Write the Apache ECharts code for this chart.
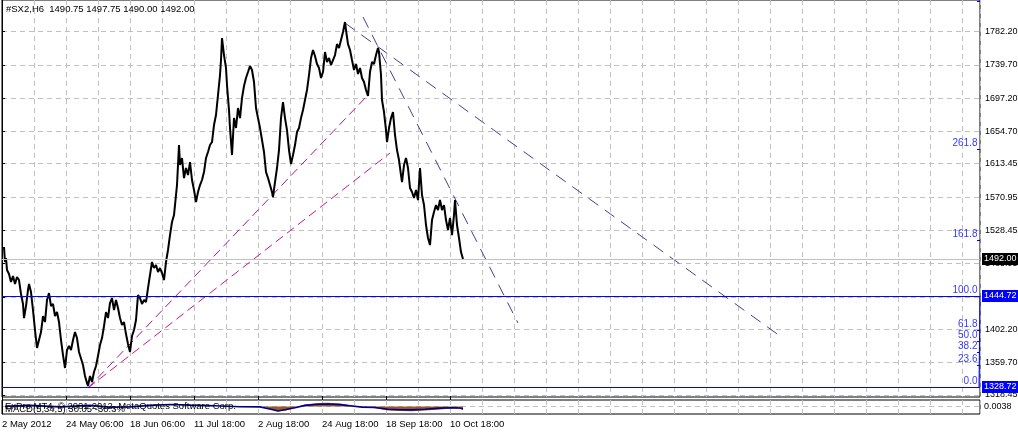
<!DOCTYPE html>
<html><head><meta charset="utf-8">
<script src="https://cdn.jsdelivr.net/npm/echarts@6/dist/echarts.min.js"></script>
<style>html,body{margin:0;padding:0;background:#fff}#c{width:1018px;height:432px}</style>
</head><body><div id="c"></div>
<script>
// ---- data ----
const symbolName = '#SX2,H6';
const lastOHLC = [1490.75, 1497.75, 1490.00, 1492.00];
// H6 bar number (counted from 2 May 2012) and price
const bars = [2,3,4,5,7,9,11,13,15,17,19,21,22,24,26,27,29,31,33,35,37,39,41,43,45,47,49,51,53,55,57,59,61,63,65,67,69,71,73,75,77,79,81,83,85,86,88,90,92,94,96,98,100,102,104,106,108,110,112,114,116,118,120,122,124,126,128,130,132,134,136,138,140,142,144,146,148,150,152,154,156,158,160,162,164,166,168,170,172,174,175,177,178,180,182,184,186,188,190,192,194,196,198,200,202,204,206,208,210,212,214,216,218,219,220,222,224,225,227,228,230,232,234,236,238,240,242,244,246,248,250,252,254,256,258,260,262,264,266,268,270,271,273,275,277,279,281,283,285,287,289,291,293,295,297,299,301,303,305,307,309,311,313,315,317,319,321,323,325,327,329,331,333,335,337,339,341,343,344,346,348,350,352,354,356,358,360,362,364,366,368,370,372,374,376,377,379,380,382,384,385,387,389,391,393,395,397,399,400,402,404,406,408,410,412,414,416,418,420,422,424,426,428,430,432,434,436,438,440,442,444,446,448,450,452,453,455,457,459,461];
const closes = [1507.2,1488.1,1493.2,1477.9,1472.8,1462.6,1470.2,1460.0,1468.9,1465.1,
1447.3,1434.5,1416.6,1431.9,1452.4,1460.0,1449.8,1426.8,1401.3,1378.4,
1388.6,1398.8,1419.2,1411.5,1439.6,1448.5,1431.9,1434.5,1419.2,1424.3,
1411.5,1388.6,1369.4,1352.9,1375.8,1380.9,1375.8,1388.6,1398.8,1391.1,
1373.3,1375.8,1356.7,1342.7,1333.7,1329.9,1342.7,1335.0,1347.8,1355.4,
1368.2,1382.2,1391.1,1406.4,1424.3,1416.6,1435.8,1442.1,1426.8,1439.6,
1429.4,1416.6,1407.7,1411.5,1396.2,1383.5,1373.3,1393.7,1401.3,1414.1,
1446.0,1442.1,1434.5,1439.6,1437.0,1454.9,1471.5,1488.1,1480.4,1484.2,
1475.3,1480.4,1474.0,1465.1,1488.1,1503.4,1522.5,1539.1,1548.0,1573.5,
1586.3,1637.3,1611.8,1620.7,1595.2,1608.0,1599.0,1615.6,1592.7,1579.9,
1564.6,1577.4,1586.3,1592.7,1602.9,1620.7,1628.4,1637.3,1641.1,1662.8,
1675.6,1701.1,1726.6,1745.7,1773.8,1752.1,1735.5,1713.8,1681.9,1659.0,
1624.5,1671.7,1659.0,1684.5,1671.7,1697.2,1712.6,1722.8,1730.4,1738.1,
1733.0,1717.7,1684.5,1671.7,1659.0,1643.7,1628.4,1602.9,1595.2,1592.7,
1577.4,1571.0,1590.1,1608.0,1630.9,1671.7,1692.1,1671.7,1656.4,1630.9,
1613.1,1624.5,1637.3,1653.9,1659.0,1671.7,1681.9,1694.7,1707.5,1726.6,
1748.3,1758.5,1750.8,1740.6,1735.5,1722.8,1730.4,1755.9,1743.2,1748.3,
1739.3,1745.7,1752.1,1766.1,1761.0,1771.2,1781.4,1794.2,1784.0,1766.1,
1758.5,1745.7,1733.0,1740.6,1727.9,1735.5,1722.8,1717.7,1707.5,1699.8,
1730.4,1743.2,1740.6,1752.1,1761.0,1755.9,1726.6,1694.7,1679.4,1656.4,
1641.1,1659.0,1671.7,1679.4,1650.1,1630.9,1618.2,1599.0,1590.1,1611.8,
1620.7,1608.0,1582.5,1577.4,1569.7,1579.9,1567.1,1608.0,1573.5,1560.8,
1535.3,1518.7,1509.7,1541.6,1551.8,1560.8,1554.4,1567.1,1554.4,1560.8,
1541.6,1528.9,1544.2,1522.5,1548.0,1567.1,1535.3,1518.7,1500.8,1492.0];
const priceTicks = [1318.45,1359.70,1402.20,1443.45,1485.95,1528.45,1570.95,1613.45,1654.70,1697.20,1739.70,1782.20];
const dateLabels = ['2 May 2012','24 May 06:00','18 Jun 06:00','11 Jul 18:00','2 Aug 18:00','24 Aug 18:00','18 Sep 18:00','10 Oct 18:00'];
const fibLow = 1328.72, fibHigh = 1444.72;
const fibLevels = [0, 23.6, 38.2, 50, 61.8, 100, 161.8, 261.8, 423.6];
const fibBar = 977;
const trendMagenta1 = [[86,1327.4],[366,1701.1]];
const trendMagenta2 = [[86,1327.4],[388,1627.1]];
const trendSlate1 = [[343,1792.9],[778,1393.7]];
const trendSlate2 = [[361,1800.6],[516,1410.3]];
const macdBars = [3,28,58,88,108,128,148,168,188,213,238,258,270,276,284,293,303,316,326,338,350,360,373,386,398,410,423,438,450,458,461];
const macdSignal = [0,9,-4,9,-6,-4,9,17,11,6,-3,-4,-26,-39,-26,-11,9,19,21,15,4,-6,-9,-24,-28,-30,-24,-15,-11,-14,-22];
const histBars = [262,270,276,284,293,303,316,326,338,350,360,373,386,398,410,423,438,450,458,461];
const histValues = [-3,-28,-42,-34,-12,16,30,32,24,8,-6,-16,-36,-40,-41,-34,-26,-18,-20,-28];
const copyrightText = 'ExPro MT4, © 2001-2012, MetaQuotes Software Corp.';
const indicatorText = 'MACD(5,34,5) 30.05 -30.3%';

// ---- chart ----
const FONT = 'Liberation Sans, Arial, sans-serif';
const FS = 9.5;
const dash = {color:'#c0c0c0', type:[5,4], width:1};
const chart = echarts.init(document.getElementById('c'), null, {renderer:'canvas'});
const fibPrice = r => +(fibLow + r/100*(fibHigh-fibLow)).toFixed(2);

const trend = (d, color, dtype) => ({
  type:'line', xAxisIndex:0, yAxisIndex:0, data:d, symbol:'none', silent:true,
  lineStyle:{color, width:1, type:dtype}, z:3
});
const priceBox = (v, bg) => ({yAxis:v, lineStyle:{color: bg === '#000' ? '#c0c0c0' : bg, width:1, type:'solid'},
  label:{show:true, position:'end', distance:2, formatter:v.toFixed(2), color:'#fff', backgroundColor:bg,
         padding:[2,3,1,2], fontSize:9, fontFamily:FONT}});

const option = {
  animation:false,
  backgroundColor:'#fff',
  textStyle:{fontFamily:FONT},
  grid:[
    {left:2, top:0, width:978, height:397, show:true, borderColor:'#000', borderWidth:1, outerBoundsMode:'none', containLabel:false},
    {left:2, top:400, width:978, height:14, show:true, borderColor:'#000', borderWidth:1, outerBoundsMode:'none', containLabel:false}
  ],
  xAxis:[
    {type:'value', gridIndex:0, min:0, max:978, interval:32,
     axisLine:{show:false}, axisTick:{show:false}, axisLabel:{show:false},
     splitLine:{show:true, lineStyle:dash}},
    {type:'value', gridIndex:1, min:0, max:978, interval:32,
     axisLine:{show:false}, axisTick:{show:false},
     axisLabel:{show:true, fontSize:FS, color:'#000', fontFamily:FONT, align:'left', margin:5,
       formatter:v => (v % 64 === 0 && v/64 < dateLabels.length) ? dateLabels[v/64] : ''},
     splitLine:{show:true, lineStyle:dash}},
    {type:'value', gridIndex:1, min:0, max:978,
     axisLine:{show:false}, axisLabel:{show:false}, splitLine:{show:false},
     axisTick:{show:true, length:4, lineStyle:{color:'#000'}, customValues:dateLabels.map((d,i)=>i*64)}}
  ],
  yAxis:[
    {type:'value', gridIndex:0, position:'right', min:1315.9, max:1822.3,
     axisLine:{show:true, lineStyle:{color:'#000'}},
     axisTick:{show:true, length:3, lineStyle:{color:'#000'}, customValues:priceTicks},
     axisLabel:{show:true, fontSize:9, color:'#000', fontFamily:FONT, margin:5,
       customValues:priceTicks, formatter:v => v.toFixed(2)},
     splitLine:{show:true, lineStyle:dash}},
    {type:'value', gridIndex:1, position:'right', min:-65, max:55,
     axisLine:{show:true, lineStyle:{color:'#000'}},
     axisTick:{show:false, customValues:[0]},
     axisLabel:{show:true, fontSize:9, color:'#000', fontFamily:FONT, margin:4,
       customValues:[0], formatter:() => '0.0038'},
     splitLine:{show:true, lineStyle:dash}}
  ],
  graphic:[
    {type:'text', left:6, top:4, z:100, style:{text:symbolName + '  ' + lastOHLC.map(v=>v.toFixed(2)).join(' '), font:FS+'px ' + FONT, fill:'#000'}},
    {type:'text', left:5, top:401, z:100, style:{text:copyrightText, font:FS+'px ' + FONT, fill:'#000'}},
    {type:'text', left:5, top:404, z:100, style:{text:indicatorText, font:FS+'px ' + FONT, fill:'#000'}}
  ],
  series:[
    {type:'line', name:'price', xAxisIndex:0, yAxisIndex:0, symbol:'none', silent:true,
     data:bars.map((b,i)=>[b, closes[i]]),
     lineStyle:{color:'#000', width:2}, z:4,
     markLine:{symbol:'none', silent:true, animation:false,
       data:[priceBox(lastOHLC[3], '#000'), priceBox(fibHigh, '#0000ff'), priceBox(fibLow, '#0000ff')]}},
    trend(trendMagenta1, '#a0189a', [9,5]),
    trend(trendMagenta2, '#cc1584', [9,5]),
    trend(trendSlate1, '#483d8b', [12,8]),
    trend(trendSlate2, '#483d8b', [12,8]),
    {type:'scatter', xAxisIndex:0, yAxisIndex:0, symbolSize:1, silent:true, z:5,
     itemStyle:{color:'rgba(0,0,0,0)'},
     data:fibLevels.map(r=>({value:[fibBar, fibPrice(r)], name:r.toFixed(1)})),
     label:{show:true, position:'left', distance:1, offset:[0,-6], formatter:p=>p.name, color:'#0000ff', fontSize:FS+0.5, fontFamily:FONT},
     markLine:{symbol:'none', silent:true, animation:false, label:{show:false},
       lineStyle:{color:'#0000ff', width:1, type:'solid'},
       data: fibLevels.map(r=>[{coord:[fibBar-2, fibPrice(r)]},{coord:[fibBar+1, fibPrice(r)]}])
         .concat([[{coord:[fibBar, fibLow]},{coord:[fibBar+1, fibHigh]}]])}},
    {type:'line', xAxisIndex:1, yAxisIndex:1, symbol:'none', silent:true,
     data:histBars.map((b,i)=>[b, histValues[i]]),
     lineStyle:{width:0}, areaStyle:{color:'#9a5a24', origin:0, opacity:1}, z:2},
    {type:'line', xAxisIndex:1, yAxisIndex:1, symbol:'none', silent:true,
     data:macdBars.map((b,i)=>[b, macdSignal[i]]),
     lineStyle:{color:'#00008b', width:1.6}, z:3}
  ]
};
chart.setOption(option);
</script></body></html>
